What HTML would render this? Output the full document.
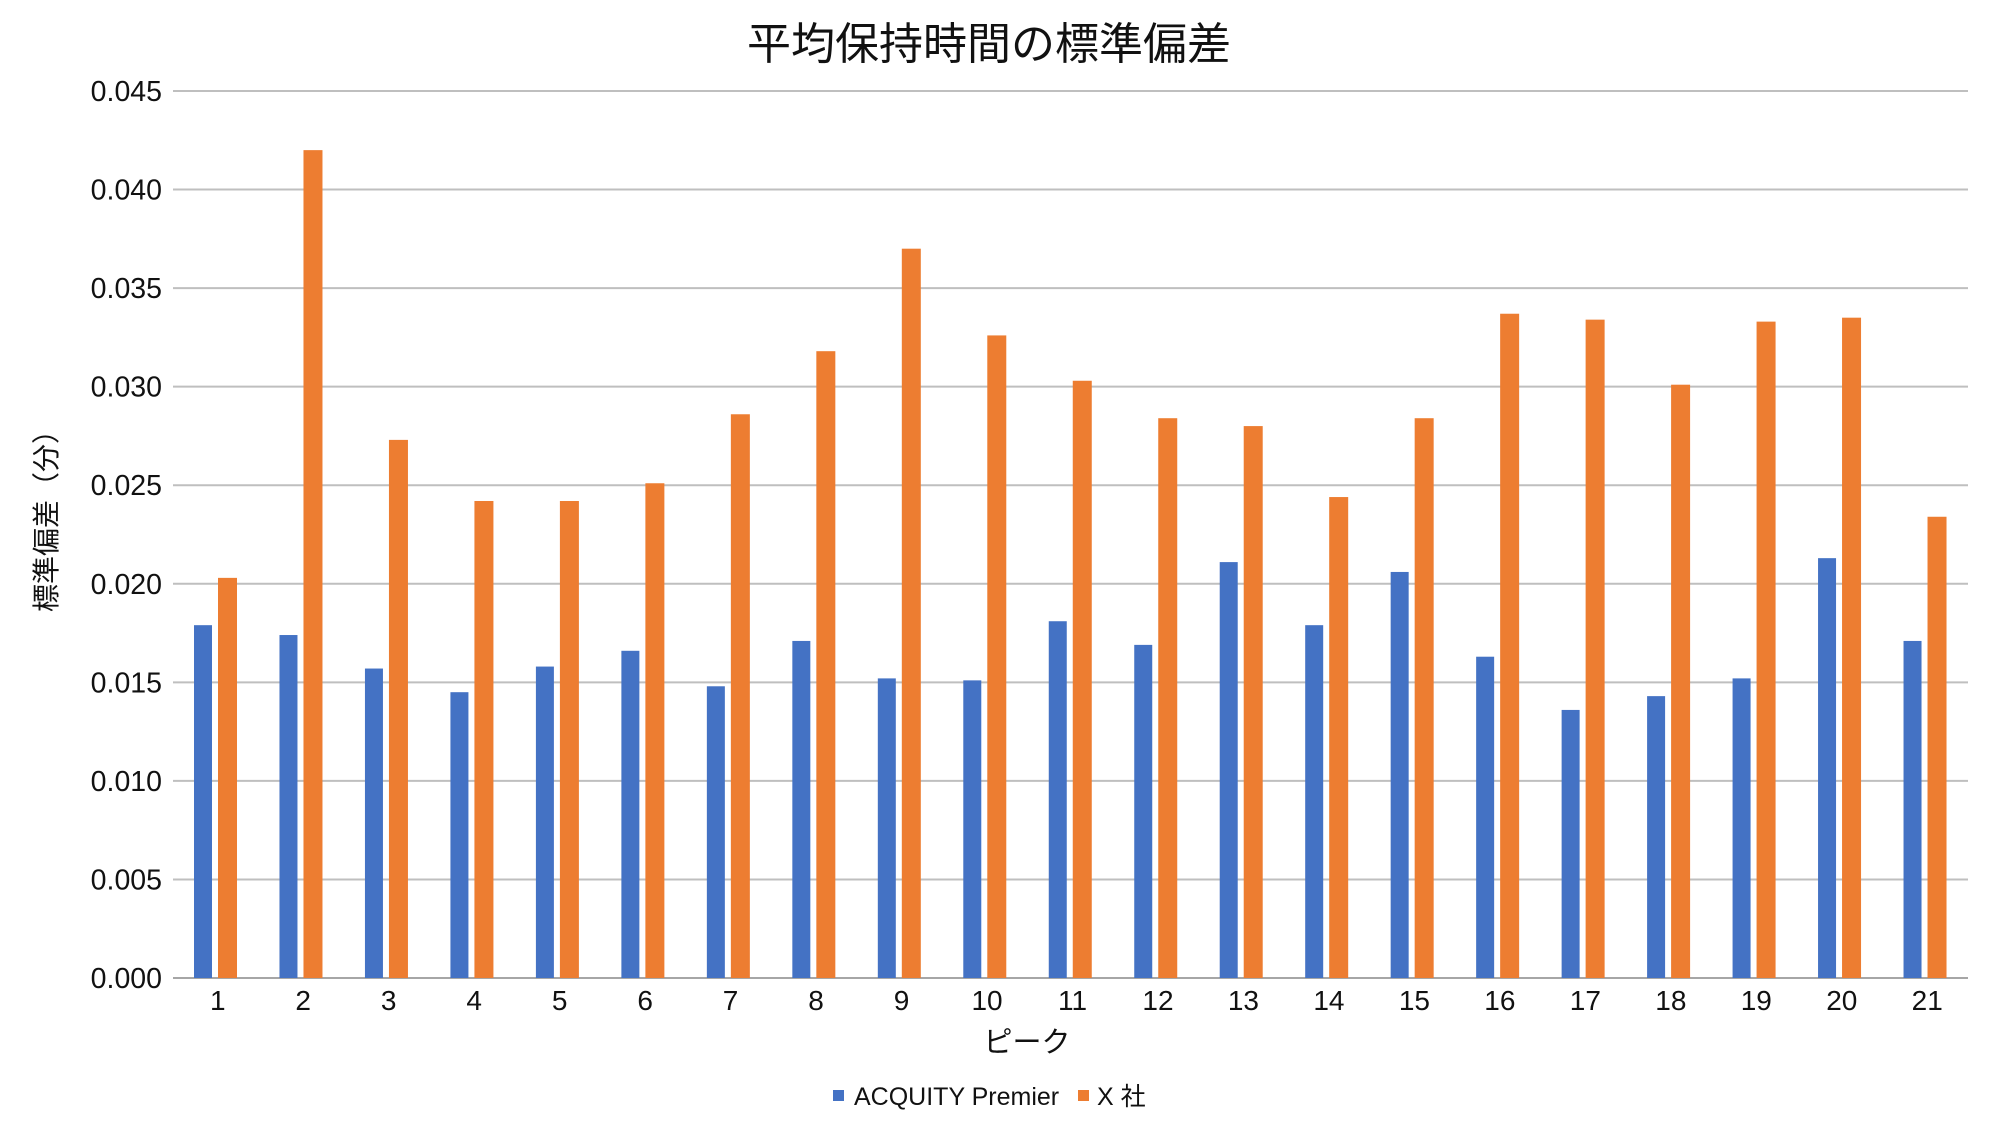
<!DOCTYPE html>
<html><head><meta charset="utf-8"><style>
body{margin:0;background:#fff;}
svg text{font-family:"Liberation Sans","Noto Sans CJK JP",sans-serif;fill:#111;}
</style></head><body>
<svg id="chart" width="2000" height="1138" xmlns="http://www.w3.org/2000/svg">
<text x="989" y="59" font-size="44" text-anchor="middle">平均保持時間の標準偏差</text>
<g id="grid"></g><g id="bars"></g><g id="xt"></g>
<text transform="translate(56,514) rotate(-90)" font-size="28" text-anchor="middle">標準偏差（分）</text>
<text x="1027" y="1052" font-size="29" text-anchor="middle">ピーク</text>
<g>
<rect x="833" y="1090" width="11" height="11" fill="#4472C4"/>
<text x="854" y="1105" font-size="25">ACQUITY Premier</text>
<rect x="1078" y="1090" width="11" height="11" fill="#ED7D31"/>
<text x="1097" y="1105" font-size="25">X 社</text>
</g>
</svg>
<script>
const categories=["1","2","3","4","5","6","7","8","9","10","11","12","13","14","15","16","17","18","19","20","21"];
const acquity=[0.0179,0.0174,0.0157,0.0145,0.0158,0.0166,0.0148,0.0171,0.0152,0.0151,0.0181,0.0169,0.0211,0.0179,0.0206,0.0163,0.0136,0.0143,0.0152,0.0213,0.0171];
const companyX=[0.0203,0.0420,0.0273,0.0242,0.0242,0.0251,0.0286,0.0318,0.0370,0.0326,0.0303,0.0284,0.0280,0.0244,0.0284,0.0337,0.0334,0.0301,0.0333,0.0335,0.0234];
const yTicks=[0,0.005,0.010,0.015,0.020,0.025,0.030,0.035,0.040,0.045];
const NS="http://www.w3.org/2000/svg";
const L=173,R=1968,T=91,B=978,yMax=0.045;
const y=v=>B-(v/yMax)*(B-T);
const bw=(R-L)/categories.length;
const x=i=>L+i*bw;
function mk(tag,attrs,parent){const e=document.createElementNS(NS,tag);for(const k in attrs)e.setAttribute(k,attrs[k]);parent.appendChild(e);return e;}
const grid=document.getElementById('grid'),bars=document.getElementById('bars'),xt=document.getElementById('xt');
yTicks.forEach(t=>{
 const l=mk('line',{x1:L,x2:R,y1:y(t),y2:y(t),stroke:t===0?'#a6a6a6':'#bfbfbf','stroke-width':2},grid);
 
 
 const tx=mk('text',{x:L-11,y:y(t)+10,'font-size':28.5,'text-anchor':'end'},grid);
 
 
 tx.textContent=t.toFixed(3);
});
categories.forEach((c,i)=>{
 const b1=mk('rect',{x:x(i)+21,y:y(acquity[i]),width:18,height:B-y(acquity[i]),fill:'#4472C4'},bars);
 
 
 const b2=mk('rect',{x:x(i)+45,y:y(companyX[i]),width:19,height:B-y(companyX[i]),fill:'#ED7D31'},bars);
 
 
 const t=mk('text',{x:x(i)+bw/2+2,y:1010,'font-size':28,'text-anchor':'middle'},xt);
 
 
 t.textContent=c;
});
</script>
</body></html>
